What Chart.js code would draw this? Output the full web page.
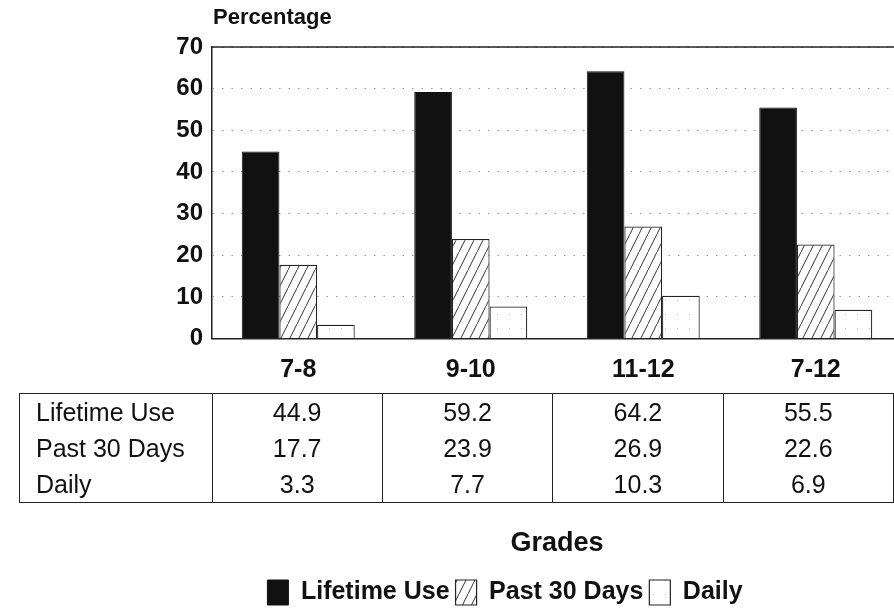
<!DOCTYPE html>
<html>
<head>
<meta charset="utf-8">
<script src="https://cdn.jsdelivr.net/npm/chart.js@4.4.0/dist/chart.umd.min.js"></script>
<style>
  body { margin: 0; background: #fff; overflow: hidden; }
  #wrap { position: relative; width: 894px; height: 615px; overflow: hidden; background: #fff; }
  #chartCanvas { position: absolute; left: 0; top: 0; }
  #yTitle {
    position: absolute; left: 213px; top: 4px;
    font: bold 22px 'Liberation Sans', Arial, sans-serif; color: #111;
  }
  #dataTable {
    position: absolute; left: 19px; top: 393px;
    border-collapse: collapse; table-layout: fixed;
    border: 1.5px solid #222;
    font: 25px 'Liberation Sans', Arial, sans-serif; color: #111;
  }
  #dataTable td { height: 36px; padding: 0; text-align: center; border-left: 1.5px solid #222; white-space: nowrap; }
  #dataTable td.rowName { text-align: left; padding-left: 16px; }
</style>
</head>
<body>
<div id="wrap">
  <canvas id="chartCanvas" width="1010" height="615"></canvas>
  <div id="yTitle">Percentage</div>
  <table id="dataTable"></table>
</div>
<script>
const grades = ['7-8', '9-10', '11-12', '7-12'];
const seriesNames = ['Lifetime Use', 'Past 30 Days', 'Daily'];
const lifetimeUse = [44.9, 59.2, 64.2, 55.5];
const past30Days = [17.7, 23.9, 26.9, 22.6];
const daily = [3.3, 7.7, 10.3, 6.9];
const axisTitle = 'Grades';

const FONT = "'Liberation Sans', Arial, sans-serif";
Chart.defaults.font.family = FONT;
Chart.defaults.color = '#111';

// diagonal hatch fill
function makeHatch() {
    const c = document.createElement('canvas');
    c.width = 9; c.height = 18;
    const g = c.getContext('2d');
    g.fillStyle = '#fff';
    g.fillRect(0, 0, 9, 18);
    g.strokeStyle = '#333';
    g.lineWidth = 1;
    g.beginPath();
    g.moveTo(-1, 20); g.lineTo(10, -2);
    g.stroke();
    return g.createPattern(c, 'repeat');
}

// sparse dots fill for the daily bars
function makeDots() {
    const c = document.createElement('canvas');
    c.width = 12; c.height = 14;
    const g = c.getContext('2d');
    g.fillStyle = '#fff';
    g.fillRect(0, 0, 12, 14);
    g.fillStyle = '#bbb';
    g.fillRect(5, 6, 1, 1);
    return g.createPattern(c, 'repeat');
}

const topFrame = {
    id: 'topFrame',
    beforeDatasetsDraw(chart) {
        const {ctx, chartArea} = chart;
        ctx.save();
        ctx.strokeStyle = '#222';
        ctx.lineWidth = 1.5;
        ctx.beginPath();
        ctx.moveTo(chartArea.left, chartArea.top);
        ctx.lineTo(chartArea.right, chartArea.top);
        ctx.stroke();
        ctx.restore();
    }
};

const ctx = document.getElementById('chartCanvas').getContext('2d');
const chart = new Chart(ctx, {
    type: 'bar',
    data: {
        labels: grades,
        datasets: [{
            label: seriesNames[0],
            data: lifetimeUse,
            backgroundColor: '#111',
            borderColor: '#111',
            borderWidth: 1
        }, {
            label: seriesNames[1],
            data: past30Days,
            backgroundColor: makeHatch(),
            borderColor: '#222',
            borderWidth: 1.2
        }, {
            label: seriesNames[2],
            data: daily,
            backgroundColor: makeDots(),
            borderColor: '#222',
            borderWidth: 1.2
        }]
    },
    plugins: [topFrame],
    options: {
        responsive: false,
        animation: false,
        devicePixelRatio: 1,
        layout: { padding: { top: 47, left: 0, right: 0, bottom: 0 } },
        datasets: { bar: { categoryPercentage: 0.655, barPercentage: 1.0 } },
        scales: {
            x: {
                grid: { display: false, drawTicks: false },
                border: { display: true, color: '#222', width: 1.5 },
                ticks: { font: { size: 25, weight: 'bold' }, color: '#111', padding: 17 },
                title: {
                    display: true,
                    text: axisTitle,
                    font: { size: 27, weight: 'bold' },
                    color: '#111',
                    padding: { top: 125, bottom: 14 }
                }
            },
            y: {
                min: 0,
                max: 70,
                ticks: { stepSize: 10, font: { size: 24, weight: 'bold' }, color: '#111', padding: 9 },
                grid: { color: '#999', lineWidth: 1, drawTicks: false },
                border: { display: true, color: '#222', width: 1.5, dash: [1.5, 8] },
                afterFit(axis) { axis.width = 212; }
            },
            ySpace: {
                position: 'right',
                display: true,
                ticks: { display: false },
                grid: { display: false, drawTicks: false },
                border: { display: false },
                afterFit(axis) { axis.width = 108; }
            }
        },
        plugins: {
            legend: {
                position: 'bottom',
                labels: {
                    font: { size: 25, weight: 'bold' },
                    color: '#111',
                    boxWidth: 21,
                    boxHeight: 25,
                    padding: 6
                }
            },
            tooltip: { enabled: false }
        }
    }
});

// data table under the axis, built from the same arrays
const table = document.getElementById('dataTable');
const colgroup = document.createElement('colgroup');
[193, 172.5, 172.5, 172.5, 172.5].forEach(w => {
    const col = document.createElement('col');
    col.style.width = w + 'px';
    colgroup.appendChild(col);
});
table.appendChild(colgroup);
[lifetimeUse, past30Days, daily].forEach((values, i) => {
    const tr = document.createElement('tr');
    const name = document.createElement('td');
    name.className = 'rowName';
    name.textContent = seriesNames[i];
    tr.appendChild(name);
    values.forEach(v => {
        const td = document.createElement('td');
        td.textContent = v.toFixed(1);
        tr.appendChild(td);
    });
    table.appendChild(tr);
});
</script>
</body>
</html>
